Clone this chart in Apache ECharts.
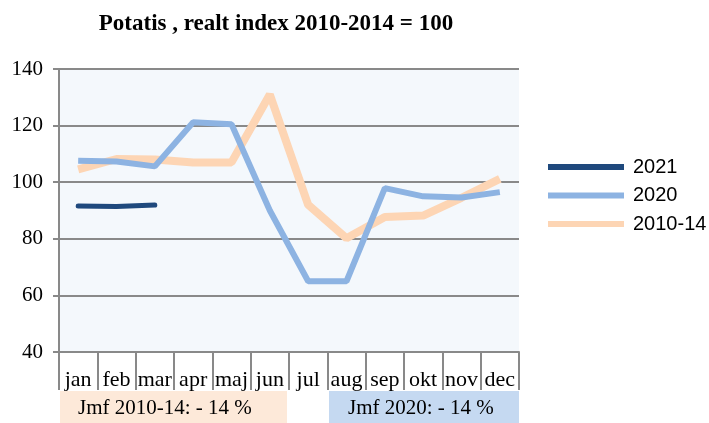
<!DOCTYPE html>
<html><head><meta charset="utf-8">
<script src="https://cdn.jsdelivr.net/npm/echarts@6/dist/echarts.min.js"></script>
<style>html,body{margin:0;padding:0;background:#fff}#c{width:709px;height:423px}</style>
</head><body><div id="c"></div>
<script>
const months = ['jan','feb','mar','apr','maj','jun','jul','aug','sep','okt','nov','dec'];
const s2021 = [91.6, 91.4, 91.9, null, null, null, null, null, null, null, null, null];
const s2020 = [107.6, 107.3, 105.6, 121.2, 120.5, 90, 65, 65, 97.9, 95, 94.6, 96.5];
const s2010 = [104.5, 108.2, 108, 107, 107, 131, 92, 80.2, 87.7, 88.2, 94.5, 101.2];
const yTicks = [40, 60, 80, 100, 120, 140];
const boxTexts = ['Jmf 2010-14: - 14 %', 'Jmf 2020: - 14 %'];

const chart = echarts.init(document.getElementById('c'));
const serif = '"Liberation Serif", "DejaVu Serif", serif';
chart.setOption({
  animation: false,
  title: {
    text: 'Potatis , realt index 2010-2014 = 100',
    left: 271, top: 8, textAlign: 'center',
    textStyle: {fontFamily: serif, fontWeight: 'bold', fontSize: 23, color: '#000'}
  },
  legend: {
    orient: 'vertical', left: 543, top: 152, itemGap: 8.5,
    itemWidth: 76, itemHeight: 6,
    icon: 'rect',
    textStyle: {fontFamily: '"Liberation Sans", Arial, sans-serif', fontSize: 20, color: '#000', padding: [0,0,0,4]},
    data: ['2021', '2020', '2010-14']
  },
  grid: {left: 59, right: 190, top: 69, bottom: 71, show: true, backgroundColor: '#F4F8FC', borderWidth: 0},
  xAxis: {
    type: 'category', data: months, boundaryGap: true,
    axisLine: {lineStyle: {color: '#898989', width: 2}},
    axisTick: {show: true, length: 38, interval: 0, lineStyle: {color: '#898989', width: 2}},
    axisLabel: {fontFamily: serif, fontSize: 22, color: '#000', margin: 17, interval: 0}
  },
  yAxis: {
    type: 'value', min: yTicks[0], max: yTicks[yTicks.length-1], interval: 20,
    axisLine: {show: true, lineStyle: {color: '#898989', width: 2}},
    axisTick: {show: true, length: 6, lineStyle: {color: '#898989', width: 2}},
    axisLabel: {fontFamily: serif, fontSize: 21, color: '#000', margin: 16},
    splitLine: {lineStyle: {color: '#898989', width: 2}}
  },
  series: [
    {name: '2010-14', type: 'line', data: s2010, symbol: 'none', z: 2,
     lineStyle: {color: '#FDD5B4', width: 8}, itemStyle: {color: '#FDD5B4'}},
    {name: '2020', type: 'line', data: s2020, symbol: 'none', z: 3,
     lineStyle: {color: '#8DB3E2', width: 6}, itemStyle: {color: '#8DB3E2'}},
    {name: '2021', type: 'line', data: s2021, symbol: 'none', z: 4,
     lineStyle: {color: '#1F497D', width: 5, cap: 'round'}, itemStyle: {color: '#1F497D'}}
  ],
  graphic: [
    {type: 'rect', left: 60, top: 391, shape: {width: 227, height: 32}, style: {fill: '#FDE9D9'}, z: 0},
    {type: 'text', left: 78, top: 398, style: {text: boxTexts[0], font: '21px ' + serif, fill: '#000'}},
    {type: 'rect', left: 329, top: 391, shape: {width: 190, height: 32}, style: {fill: '#C5D9F1'}, z: 0},
    {type: 'text', left: 348, top: 398, style: {text: boxTexts[1], font: '21px ' + serif, fill: '#000'}}
  ]
});
</script></body></html>
